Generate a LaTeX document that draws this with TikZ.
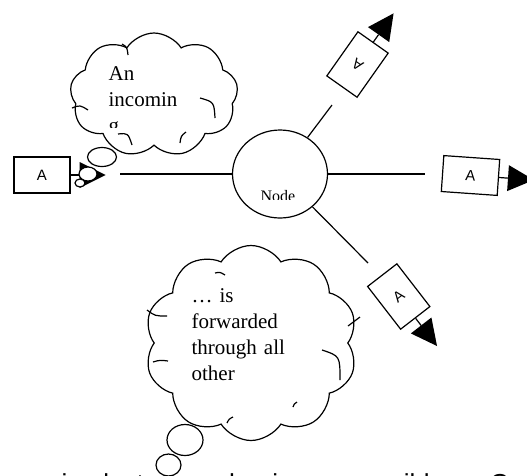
\documentclass[tikz,border=0pt]{standalone}
\usepackage{fontspec}
\setmainfont{Liberation Serif}
\newfontfamily\pktfont{Liberation Sans}
\usetikzlibrary{calc, shapes.geometric, shapes.symbols}

\tikzset{
  hub/.style={draw, ellipse, minimum width=95, minimum height=88, inner sep=0},
  packet/.style={draw, fill=white, minimum width=56, minimum height=36, inner sep=0,
    font=\pktfont\fontsize{15}{15}\selectfont},
  thought/.style={draw, fill=white, cloud, cloud ignores aspect, cloud puff arc=115, inner sep=0},
  bubble/.style={draw, fill=white, ellipse, inner sep=0},
  cloudtext/.style={align=left, text width=130, inner sep=0, font=\fontsize{21}{26}\selectfont}
}

\begin{document}
\begin{tikzpicture}[x=1pt, y=-1pt, line width=1.2]
  \useasboundingbox (0,0) rectangle (527,475);

  % the node and its links
  \node[hub] (hub) at (280,174) {};
  \begin{scope}
    \clip (240,170) rectangle (320,199);
    \node[font=\fontsize{16}{16}\selectfont, anchor=base, inner sep=0] (hubtxt) at (278,201) {Node};
  \end{scope}
  \coordinate (inL) at (120,174);
  \coordinate (outU) at (332,105);
  \coordinate (outR) at (425,174);
  \coordinate (outD) at (368,263);
  \foreach \c in {inL, outU, outR, outD}{
    \draw (hub) -- (\c);}

  % packets
  \node[packet] (pL) at (42,175) {A};
  \node[packet, rotate=-4] (pR) at (470.5,175.5) {A};
  \node[packet, minimum width=37, minimum height=54, rotate=144.8] (pU) at (357.5,64.5) {A};
  \node[packet, minimum width=37, minimum height=54, rotate=37.7] (pD) at (398.75,296.5) {A};
  \foreach \n/\s in {pL/east, pR/east, pU/south, pD/south}{
    \coordinate (\n-base) at ($(\n.\s)!9pt!180:(\n.center)$);
    \coordinate (\n-tip) at ($(\n.\s)!35pt!180:(\n.center)$);
    \draw (\n.\s) -- (\n-base);
    \fill ($(\n-base)!13pt!90:(\n-tip)$) -- (\n-tip) -- ($(\n-base)!13pt!-90:(\n-tip)$) -- cycle;}

  % clipped line of the page below
  \node[font=\pktfont\fontsize{26}{26}\selectfont, anchor=base west, inner sep=0] (tail)
    at (48,492) {\spaceskip=36pt simplest mechanism possible. On};

  % thought clouds
  \node[thought, cloud puffs=9, minimum width=168, minimum height=124] (cloudA) at (154,95) {};
  \draw (200,98) .. controls (214,102) .. (215,118);
  \draw (118,134) .. controls (128,133) .. (132,145);
  \draw (180,143) .. controls (181,136) .. (186,132);
  \draw (72,108) .. controls (80,105) .. (88,110);
  \draw (122,44) .. controls (127,47) .. (128,55);
  \node[bubble, minimum width=29, minimum height=19] (bA1) at (102,157) {};
  \node[bubble, minimum width=18, minimum height=14] (bA2) at (88,174) {};
  \node[bubble, minimum width=10, minimum height=8] (bA3) at (80,183) {};
  \begin{scope}
    \clip (100,50) rectangle (220,127);
    \node[cloudtext, anchor=base west] (txtA) at (108,80) {An\\incomin\\g};
  \end{scope}

  \node[thought, cloud puffs=10, minimum width=213, minimum height=195] (cloudB) at (251,343) {};
  \draw (322,350) .. controls (340,356) .. (340,380);
  \draw (147,310) .. controls (155,316) .. (167,316);
  \draw (153,362) .. controls (160,360) .. (168,361);
  \draw (215,273) .. controls (220,272) .. (225,275);
  \draw (348,326) .. controls (354,322) .. (360,317);
  \draw (227,423) .. controls (229,419) .. (233,417);
  \draw (293,407) .. controls (294,404) .. (297,402);
  \node[bubble, minimum width=36, minimum height=31] (bB1) at (185,440) {};
  \node[bubble, minimum width=25, minimum height=22] (bB2) at (168.5,465) {};
  \begin{scope}
    \clip (185,270) rectangle (340,388);
    \node[cloudtext, anchor=base west] (txtB) at (191,302) {… is\\forwarded\\through all\\other};
  \end{scope}
\end{tikzpicture}
\end{document}
